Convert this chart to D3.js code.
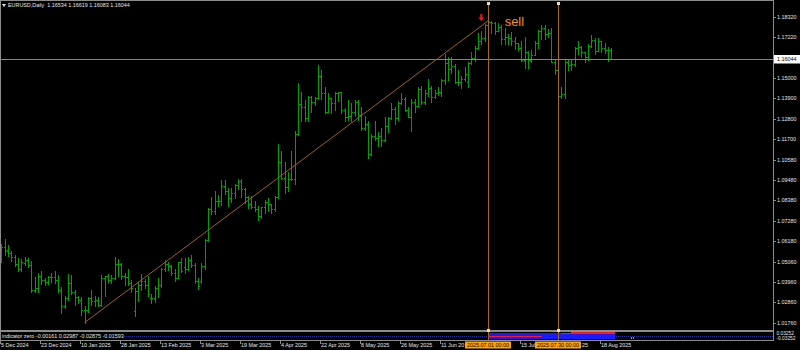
<!DOCTYPE html>
<html><head><meta charset="utf-8">
<script src="https://cdn.jsdelivr.net/npm/d3@7"></script>
<style>html,body{margin:0;padding:0;background:#000;}svg{display:block;}</style>
</head><body><svg id="c" width="800" height="350"></svg>
<script>
// ---------- DATA ----------
const dates = [
"2024-12-05","2024-12-06","2024-12-09","2024-12-10","2024-12-11","2024-12-12","2024-12-13","2024-12-16","2024-12-17","2024-12-18","2024-12-19","2024-12-20","2024-12-23","2024-12-24","2024-12-26","2024-12-27","2024-12-30","2024-12-31",
"2025-01-02","2025-01-03","2025-01-06","2025-01-07","2025-01-08","2025-01-09","2025-01-10","2025-01-13","2025-01-14","2025-01-15","2025-01-16","2025-01-17","2025-01-20","2025-01-21","2025-01-22","2025-01-23","2025-01-24","2025-01-27","2025-01-28","2025-01-29","2025-01-30","2025-01-31",
"2025-02-03","2025-02-04","2025-02-05","2025-02-06","2025-02-07","2025-02-10","2025-02-11","2025-02-12","2025-02-13","2025-02-14","2025-02-17","2025-02-18","2025-02-19","2025-02-20","2025-02-21","2025-02-24","2025-02-25","2025-02-26","2025-02-27","2025-02-28",
"2025-03-03","2025-03-04","2025-03-05","2025-03-06","2025-03-07","2025-03-10","2025-03-11","2025-03-12","2025-03-13","2025-03-14","2025-03-17","2025-03-18","2025-03-19","2025-03-20","2025-03-21","2025-03-24","2025-03-25","2025-03-26","2025-03-27","2025-03-28","2025-03-31",
"2025-04-01","2025-04-02","2025-04-03","2025-04-04","2025-04-07","2025-04-08","2025-04-09","2025-04-10","2025-04-11","2025-04-14","2025-04-15","2025-04-16","2025-04-17","2025-04-18","2025-04-21","2025-04-22","2025-04-23","2025-04-24","2025-04-25","2025-04-28","2025-04-29","2025-04-30",
"2025-05-01","2025-05-02","2025-05-05","2025-05-06","2025-05-07","2025-05-08","2025-05-09","2025-05-12","2025-05-13","2025-05-14","2025-05-15","2025-05-16","2025-05-19","2025-05-20","2025-05-21","2025-05-22","2025-05-23","2025-05-26","2025-05-27","2025-05-28","2025-05-29","2025-05-30",
"2025-06-02","2025-06-03","2025-06-04","2025-06-05","2025-06-06","2025-06-09","2025-06-10","2025-06-11","2025-06-12","2025-06-13","2025-06-16","2025-06-17","2025-06-18","2025-06-19","2025-06-20","2025-06-23","2025-06-24","2025-06-25","2025-06-26","2025-06-27","2025-06-30",
"2025-07-01","2025-07-02","2025-07-03","2025-07-04","2025-07-07","2025-07-08","2025-07-09","2025-07-10","2025-07-11","2025-07-14","2025-07-15","2025-07-16","2025-07-17","2025-07-18","2025-07-21","2025-07-22","2025-07-23","2025-07-24","2025-07-25","2025-07-28","2025-07-29","2025-07-30","2025-07-31",
"2025-08-01","2025-08-04","2025-08-05","2025-08-06","2025-08-07","2025-08-08","2025-08-11","2025-08-12","2025-08-13","2025-08-14","2025-08-15","2025-08-18","2025-08-19","2025-08-20","2025-08-21"
];
const open = [
1.0511,1.0586,1.0565,1.0553,1.0529,1.0495,1.0467,1.0500,1.0513,1.0488,1.0352,1.0363,1.0430,1.0406,1.0394,1.0423,1.0426,1.0408,
1.0354,1.0265,1.0307,1.0389,1.0342,1.0317,1.0299,1.0244,1.0245,1.0307,1.0291,1.0300,1.0272,1.0418,1.0428,1.0409,1.0417,1.0494,1.0493,1.0430,1.0421,1.0389,
1.0240,1.0346,1.0379,1.0404,1.0382,1.0310,1.0307,1.0362,1.0382,1.0464,1.0491,1.0483,1.0446,1.0419,1.0505,1.0480,1.0466,1.0514,1.0486,1.0400,
1.0400,1.0484,1.0625,1.0791,1.0783,1.0833,1.0833,1.0918,1.0889,1.0852,1.0878,1.0922,1.0943,1.0900,1.0854,1.0816,1.0800,1.0791,1.0753,1.0801,1.0829,
1.0817,1.0790,1.0855,1.1048,1.0960,1.0908,1.0955,1.0951,1.1196,1.1357,1.1345,1.1284,1.1396,1.1369,1.1394,1.1510,1.1417,1.1316,1.1390,1.1364,1.1421,1.1425,
1.1327,1.1290,1.1297,1.1315,1.1369,1.1300,1.1232,1.1251,1.1089,1.1187,1.1175,1.1188,1.1163,1.1242,1.1283,1.1330,1.1282,1.1364,1.1387,1.1326,1.1290,1.1368,
1.1347,1.1443,1.1372,1.1418,1.1446,1.1396,1.1420,1.1422,1.1487,1.1584,1.1549,1.1563,1.1479,1.1480,1.1494,1.1480,1.1580,1.1608,1.1663,1.1702,1.1718,
1.1787,1.1804,1.1797,1.1757,1.1778,1.1709,1.1723,1.1719,1.1701,1.1690,1.1664,1.1599,1.1640,1.1596,1.1627,1.1692,1.1753,1.1771,1.1741,1.1742,1.1589,1.1546,1.1403,
1.1415,1.1587,1.1572,1.1575,1.1661,1.1667,1.1641,1.1616,1.1676,1.1706,1.1648,1.1701,1.1662,1.1650,1.1653
];
const high = [
1.0600,1.0630,1.0594,1.0565,1.0545,1.0527,1.0520,1.0534,1.0527,1.0512,1.0421,1.0445,1.0458,1.0418,1.0431,1.0444,1.0455,1.0436,
1.0367,1.0318,1.0437,1.0436,1.0355,1.0320,1.0313,1.0268,1.0315,1.0353,1.0318,1.0313,1.0434,1.0431,1.0439,1.0436,1.0533,1.0520,1.0497,1.0445,1.0468,1.0409,
1.0366,1.0398,1.0442,1.0412,1.0429,1.0334,1.0376,1.0420,1.0471,1.0513,1.0504,1.0489,1.0464,1.0506,1.0528,1.0528,1.0530,1.0545,1.0499,1.0420,
1.0499,1.0630,1.0797,1.0854,1.0888,1.0867,1.0947,1.0947,1.0906,1.0905,1.0928,1.0955,1.0953,1.0907,1.0863,1.0860,1.0833,1.0808,1.0803,1.0838,1.0852,
1.0820,1.0860,1.1144,1.1107,1.1043,1.0990,1.1107,1.1214,1.1474,1.1423,1.1380,1.1405,1.1403,1.1395,1.1573,1.1545,1.1451,1.1420,1.1394,1.1425,1.1425,1.1425,
1.1338,1.1380,1.1364,1.1380,1.1382,1.1343,1.1293,1.1266,1.1196,1.1265,1.1210,1.1227,1.1288,1.1289,1.1364,1.1345,1.1376,1.1420,1.1397,1.1345,1.1385,1.1384,
1.1454,1.1455,1.1434,1.1495,1.1457,1.1437,1.1452,1.1497,1.1631,1.1614,1.1612,1.1578,1.1541,1.1509,1.1562,1.1588,1.1641,1.1673,1.1744,1.1754,1.1790,
1.1814,1.1808,1.1806,1.1796,1.1788,1.1769,1.1739,1.1748,1.1721,1.1691,1.1701,1.1721,1.1645,1.1650,1.1699,1.1760,1.1788,1.1789,1.1764,1.1771,1.1599,1.1578,1.1452,
1.1599,1.1599,1.1599,1.1670,1.1698,1.1671,1.1643,1.1686,1.1731,1.1717,1.1716,1.1702,1.1690,1.1670,1.1662
];
const low = [
1.0505,1.0542,1.0535,1.0510,1.0482,1.0455,1.0456,1.0490,1.0477,1.0343,1.0343,1.0344,1.0384,1.0380,1.0384,1.0395,1.0390,1.0343,
1.0226,1.0254,1.0300,1.0330,1.0274,1.0282,1.0215,1.0177,1.0234,1.0270,1.0265,1.0266,1.0267,1.0322,1.0397,1.0389,1.0414,1.0430,1.0410,1.0380,1.0380,1.0343,
1.0210,1.0296,1.0355,1.0362,1.0322,1.0285,1.0290,1.0317,1.0370,1.0457,1.0462,1.0434,1.0403,1.0418,1.0450,1.0445,1.0460,1.0475,1.0390,1.0359,
1.0389,1.0468,1.0617,1.0762,1.0765,1.0806,1.0812,1.0870,1.0806,1.0831,1.0850,1.0901,1.0858,1.0823,1.0797,1.0795,1.0778,1.0733,1.0743,1.0768,1.0778,
1.0771,1.0780,1.0850,1.0951,1.0880,1.0889,1.0948,1.0929,1.1190,1.1265,1.1265,1.1265,1.1314,1.1355,1.1385,1.1385,1.1312,1.1315,1.1312,1.1325,1.1375,1.1311,
1.1265,1.1273,1.1265,1.1293,1.1275,1.1220,1.1220,1.1065,1.1084,1.1167,1.1132,1.1133,1.1160,1.1208,1.1277,1.1250,1.1274,1.1358,1.1322,1.1290,1.1211,1.1315,
1.1345,1.1358,1.1357,1.1402,1.1372,1.1390,1.1406,1.1405,1.1467,1.1488,1.1525,1.1473,1.1465,1.1447,1.1484,1.1453,1.1576,1.1590,1.1655,1.1685,1.1700,
1.1746,1.1745,1.1738,1.1755,1.1683,1.1685,1.1682,1.1679,1.1656,1.1650,1.1593,1.1556,1.1556,1.1588,1.1625,1.1660,1.1713,1.1710,1.1723,1.1586,1.1520,1.1401,1.1391,
1.1392,1.1541,1.1546,1.1563,1.1629,1.1616,1.1589,1.1599,1.1667,1.1630,1.1646,1.1640,1.1633,1.1590,1.1604
];
const close = [
1.0586,1.0567,1.0553,1.0529,1.0495,1.0467,1.0502,1.0513,1.0488,1.0352,1.0363,1.0430,1.0406,1.0394,1.0423,1.0426,1.0408,1.0354,
1.0265,1.0307,1.0389,1.0342,1.0317,1.0299,1.0244,1.0245,1.0307,1.0291,1.0300,1.0272,1.0418,1.0428,1.0409,1.0417,1.0494,1.0493,1.0430,1.0421,1.0389,1.0362,
1.0346,1.0379,1.0404,1.0382,1.0330,1.0307,1.0362,1.0382,1.0464,1.0491,1.0483,1.0446,1.0419,1.0505,1.0458,1.0466,1.0514,1.0486,1.0400,1.0375,
1.0484,1.0625,1.0791,1.0783,1.0833,1.0833,1.0918,1.0889,1.0852,1.0878,1.0922,1.0943,1.0900,1.0854,1.0816,1.0800,1.0791,1.0753,1.0801,1.0829,1.0817,
1.0790,1.0855,1.1048,1.0960,1.0908,1.0955,1.0951,1.1196,1.1357,1.1345,1.1284,1.1396,1.1369,1.1394,1.1510,1.1417,1.1316,1.1390,1.1364,1.1421,1.1425,1.1327,
1.1290,1.1297,1.1315,1.1369,1.1300,1.1232,1.1251,1.1089,1.1187,1.1175,1.1188,1.1163,1.1242,1.1283,1.1330,1.1282,1.1364,1.1387,1.1326,1.1290,1.1368,1.1347,
1.1443,1.1372,1.1418,1.1446,1.1396,1.1420,1.1422,1.1487,1.1584,1.1549,1.1563,1.1479,1.1480,1.1494,1.1523,1.1580,1.1608,1.1663,1.1702,1.1718,1.1787,
1.1804,1.1797,1.1757,1.1778,1.1709,1.1723,1.1719,1.1701,1.1690,1.1664,1.1599,1.1640,1.1596,1.1627,1.1692,1.1753,1.1771,1.1741,1.1742,1.1589,1.1546,1.1403,1.1415,
1.1587,1.1572,1.1575,1.1661,1.1667,1.1641,1.1616,1.1676,1.1706,1.1648,1.1701,1.1662,1.1650,1.1650,1.1604
];
const priceTicks = [1.18320,1.17220,1.15000,1.13900,1.12800,1.11700,1.10580,1.09480,1.08380,1.07280,1.06180,1.05060,1.03960,1.02860,1.01760];
const currentPrice = 1.16044;
const headerText = "EURUSD,Daily  1.16534 1.16619 1.16083 1.16044";
// visible parts of the time labels (labels partly covered by the line-date boxes are shown truncated as in the reference)
const timeTickDates = ["2024-12-05","2024-12-23","2025-01-10","2025-01-28","2025-02-13","2025-03-03","2025-03-19","2025-04-04","2025-04-22","2025-05-08","2025-05-26","2025-06-11","2025-07-15","2025-08-18"];
const timeTickLabels = ["5 Dec 2024","23 Dec 2024","10 Jan 2025","28 Jan 2025","13 Feb 2025","3 Mar 2025","19 Mar 2025","4 Apr 2025","22 Apr 2025","8 May 2025","26 May 2025","11 Jun 20","15 Jul","18 Aug 2025"];
const tailLabelDate = "2025-07-30", tailLabelText = "25";
const trendDates = ["2025-01-13","2025-07-01"];
const trendPrices = [1.0177, 1.1809];
const vlineDates = ["2025-07-01","2025-07-30"];
const vlineLabels = ["2025.07.01 00:00","2025.07.30 00:00"];
const arrowDate = "2025-06-27", arrowPrice = 1.1809;
const sellDate = "2025-07-08", sellPrice = 1.1782, sellText = "sell";
// indicator sub-window (bars from 2025-07-01 to 2025-08-21)
const indicatorText = "indicator zero -0.00161 0.02987 -0.02875 -0.01593";
const indStart = "2025-07-01";
const indBlueTop = [0.018,0.018,0.018,0.018,0.018,0.018,0.018,0.018,0.018,0.018,0.018,0.018,0.018,0.018,0.018,0.018,
  0.022,0.022,0.022,0.022,0.022,0.022,0.022,0.022,0.022,0.022,0.022,0.022,0.022,0.022,0.022,0.022,0.022,0.022,0.022,0.022,0.022,0.022];
const indBlueBot = [-0.026,-0.026,-0.026,-0.026,-0.026,-0.026,-0.026,-0.026,-0.026,-0.026,-0.026,-0.026,-0.026,-0.026,-0.026,-0.026,
  -0.026,-0.026,-0.026,-0.026,-0.026,-0.026,-0.026,-0.026,-0.026,-0.026,-0.026,-0.026,-0.026,-0.026,-0.026,-0.026,-0.026,-0.026,-0.026,-0.026,-0.026,-0.026];
const indRedTop = [0.0012,0.0012,0.0012,0.0012,0.0012,0.0012,0.0012,0.0012,0.0012,0.0012,0.0012,0.0012,0.0012,0.0012,0.0012,0.0012,
  null,null,null,null,null,null,0.0225,0.0235,0.0245,0.0250,0.0255,0.0262,0.0268,0.0275,0.0280,0.0288,0.0295,0.0300,0.0305,0.0310,0.0315,0.0320];
const indRedBot = [-0.0012,-0.0012,-0.0012,-0.0012,-0.0012,-0.0012,-0.0012,-0.0012,-0.0012,-0.0012,-0.0012,-0.0012,-0.0012,-0.0012,-0.0012,-0.0012,
  null,null,null,null,null,null,0.012,0.012,0.012,0.012,0.012,0.012,0.012,0.012,0.012,0.012,0.012,0.012,0.012,0.012,0.012,0.012];
const indTicks = [0.03252, -0.03252];

// ---------- LAYOUT ----------
const W = 800, H = 350;
const axisX = 773;
const mainTop = 1, mainBot = 330;
const FONT = "'Liberation Sans', Arial, sans-serif";
const FS = 5.4;
const txtColor = "#e6e6e6";
const green = "#00a000";
const gray = "#8c8c8c";

const svg = d3.select("#c");
svg.append("rect").attr("width", W).attr("height", H).attr("fill", "#000");

const x = d3.scalePoint().domain(dates).range([1.3, 1.3 + (dates.length - 1) * 40 / 12]);
const y = d3.scaleLinear().domain([1.01760, 1.18320]).range([322.7, 16.7]);
const yi = d3.scaleLinear().domain([-0.03252, 0.03252]).range([340, 331.5]);
const px = d => Math.round(x(d));

svg.append("clipPath").attr("id", "mainClip").append("rect")
  .attr("x", 0).attr("y", mainTop).attr("width", axisX).attr("height", mainBot - mainTop);
const main = svg.append("g").attr("clip-path", "url(#mainClip)").attr("shape-rendering", "crispEdges");

const bars = dates.map((d, i) => ({ d, o: open[i], h: high[i], l: low[i], c: close[i] }));
main.selectAll("rect.hl").data(bars).join("rect").attr("class", "hl")
  .attr("x", d => px(d.d)).attr("y", d => Math.round(y(d.h)))
  .attr("width", 1).attr("height", d => Math.max(1, Math.round(y(d.l)) - Math.round(y(d.h)) + 1))
  .attr("fill", green);
main.selectAll("rect.op").data(bars).join("rect").attr("class", "op")
  .attr("x", d => px(d.d) - 1).attr("y", d => Math.round(y(d.o))).attr("width", 1).attr("height", 1).attr("fill", green);
main.selectAll("rect.cl").data(bars).join("rect").attr("class", "cl")
  .attr("x", d => px(d.d) + 1).attr("y", d => Math.round(y(d.c))).attr("width", 1).attr("height", 1).attr("fill", green);

// current price line
const cpY = Math.round(y(currentPrice)) + 0.5;
svg.append("line").attr("x1", 0).attr("x2", axisX).attr("y1", cpY).attr("y2", cpY)
  .attr("stroke", "#778899").attr("stroke-width", 1);

// trend line
svg.append("line")
  .attr("x1", x(trendDates[0])).attr("y1", y(trendPrices[0]))
  .attr("x2", x(trendDates[1])).attr("y2", y(trendPrices[1]))
  .attr("stroke", "#a0601c").attr("stroke-width", 1);

// indicator panel
const indG = svg.append("g").attr("shape-rendering", "crispEdges");
const i0 = dates.indexOf(indStart);
const indData = indBlueTop.map((v, k) => ({ d: dates[i0 + k], bt: v, bb: indBlueBot[k], rt: indRedTop[k], rb: indRedBot[k] }));
indG.append("line").attr("x1", 124).attr("x2", axisX).attr("y1", 336.5).attr("y2", 336.5)
  .attr("stroke", "#2030a0").attr("stroke-dasharray", "1,1");
indG.selectAll("rect.ib").data(indData).join("rect").attr("class", "ib")
  .attr("x", d => px(d.d)).attr("width", 4)
  .attr("y", d => yi(d.bt)).attr("height", d => yi(d.bb) - yi(d.bt)).attr("fill", "#1a1aff");
indG.selectAll("rect.ir").data(indData.filter(d => d.rt !== null)).join("rect").attr("class", "ir")
  .attr("x", d => px(d.d)).attr("width", 4)
  .attr("y", d => yi(d.rt)).attr("height", d => Math.max(1, yi(d.rb) - yi(d.rt))).attr("fill", "#ff1a1a");
indG.append("rect").attr("x", 631).attr("y", 337).attr("width", 1).attr("height", 2).attr("fill", "#e08a10");
indG.append("rect").attr("x", 633).attr("y", 337).attr("width", 1).attr("height", 2).attr("fill", "#e08a10");
svg.append("text").attr("x", 2).attr("y", 338.3).attr("font-family", FONT).attr("font-size", FS)
  .attr("fill", txtColor).text(indicatorText);

// vertical lines
vlineDates.forEach(d => {
  const vx = px(d) + 0.5;
  svg.append("line").attr("x1", vx).attr("x2", vx).attr("y1", 2).attr("y2", 340)
    .attr("stroke", "#a86a18").attr("stroke-width", 1);
});

// borders
const bord = svg.append("g").attr("shape-rendering", "crispEdges");
bord.append("rect").attr("x", 0).attr("y", 0).attr("width", axisX).attr("height", 1).attr("fill", gray);
bord.append("rect").attr("x", 0).attr("y", 0).attr("width", 1).attr("height", 341).attr("fill", gray);
bord.append("rect").attr("x", 0).attr("y", 330).attr("width", axisX + 1).attr("height", 2).attr("fill", gray);
bord.append("rect").attr("x", 0).attr("y", 340).attr("width", axisX + 1).attr("height", 1).attr("fill", gray);
bord.append("rect").attr("x", axisX).attr("y", 0).attr("width", 1).attr("height", 341).attr("fill", gray);

vlineDates.forEach(d => {
  const vx = px(d);
  [2, 329].forEach(hy => bord.append("rect").attr("x", vx - 1).attr("y", hy).attr("width", 3).attr("height", 3).attr("fill", "#f0e0a0"));
});

// red arrow
const ax = x(arrowDate), ay = y(arrowPrice);
svg.append("path")
  .attr("d", `M${ax - 1},${ay - 7} L${ax + 1},${ay - 7} L${ax + 1},${ay - 3.5} L${ax + 3},${ay - 3.5} L${ax},${ay} L${ax - 3},${ay - 3.5} L${ax - 1},${ay - 3.5} Z`)
  .attr("fill", "#ff1010");

// sell label
svg.append("text").attr("x", x(sellDate)).attr("y", y(sellPrice))
  .attr("font-family", FONT).attr("font-size", 13).attr("fill", "#f0901e").text(sellText);

// header
svg.append("path").attr("d", "M2,4 L6,4 L4,7 Z").attr("fill", txtColor);
svg.append("text").attr("x", 8).attr("y", 7.2).attr("font-family", FONT).attr("font-size", FS)
  .attr("fill", txtColor).style("white-space", "pre").text(headerText);

// price axis
const pa = svg.append("g");
priceTicks.forEach(p => {
  const ty = Math.round(y(p)) + 0.5;
  pa.append("line").attr("x1", axisX).attr("x2", axisX + 3).attr("y1", ty).attr("y2", ty).attr("stroke", gray);
  pa.append("text").attr("x", 777).attr("y", ty + 1.9).attr("font-family", FONT).attr("font-size", FS)
    .attr("fill", txtColor).text(p.toFixed(5));
});
pa.append("rect").attr("x", 774).attr("y", cpY - 4.5).attr("width", 26).attr("height", 8.5).attr("fill", "#fff");
pa.append("text").attr("x", 777).attr("y", cpY + 1.9).attr("font-family", FONT).attr("font-size", FS)
  .attr("fill", "#000").text(currentPrice.toFixed(5));
// indicator axis labels
indTicks.forEach((v, k) => {
  pa.append("text").attr("x", 776.5).attr("y", 334.6 + k * 5.4).attr("font-family", FONT).attr("font-size", 4.8)
    .attr("fill", txtColor).text(v.toFixed(5));
});

// time axis
const ta = svg.append("g");
timeTickDates.forEach((d, k) => {
  const tx = px(d);
  ta.append("rect").attr("x", tx - 1).attr("y", 341).attr("width", 1).attr("height", 3).attr("fill", gray);
  ta.append("text").attr("x", tx).attr("y", 346.8).attr("font-family", FONT).attr("font-size", FS)
    .attr("fill", txtColor).text(timeTickLabels[k]);
});
vlineDates.forEach((d, k) => {
  const cx = x(d);
  ta.append("rect").attr("x", cx - 23).attr("y", 341.5).attr("width", 46).attr("height", 7).attr("fill", "#ffa500");
  ta.append("text").attr("x", cx).attr("y", 346.8).attr("text-anchor", "middle").attr("font-family", FONT)
    .attr("font-size", FS).attr("fill", "#000").text(vlineLabels[k]);
});
ta.append("text").attr("x", x(tailLabelDate) + 24).attr("y", 346.8).attr("font-family", FONT).attr("font-size", FS)
  .attr("fill", txtColor).text(tailLabelText);
</script></body></html>
